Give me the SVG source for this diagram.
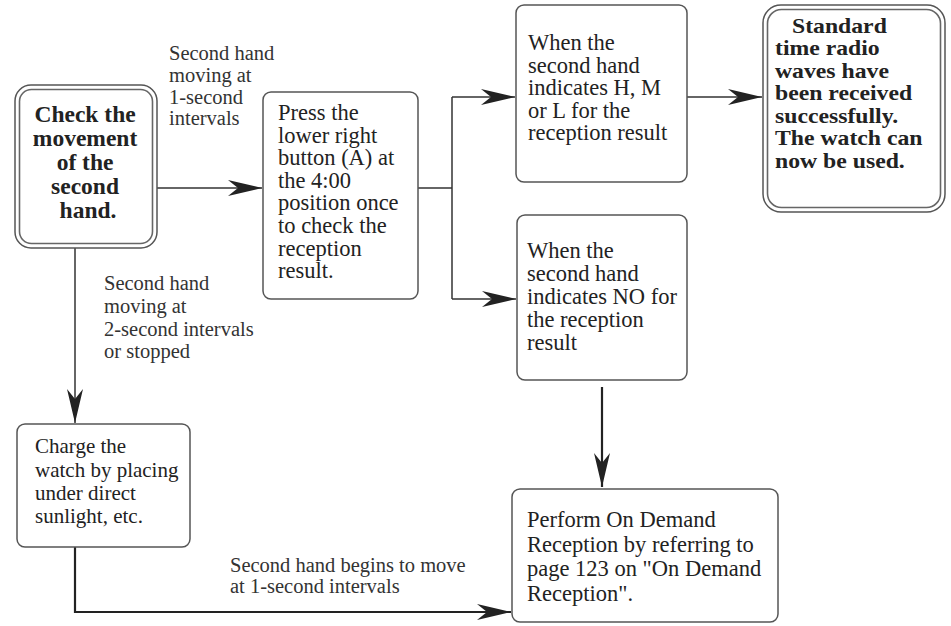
<svg xmlns="http://www.w3.org/2000/svg" width="951" height="626" viewBox="0 0 951 626">
<style>
.box{fill:#fff;stroke:#555;stroke-width:1.5}
.dbl{fill:none;stroke:#666;stroke-width:1.6}
.t{font-family:"Liberation Serif","Times New Roman",serif;font-size:22.5px;fill:#222}
.b{font-family:"Liberation Serif","Times New Roman",serif;font-size:23.5px;font-weight:bold;fill:#222}
.lbl{font-family:"Liberation Serif","Times New Roman",serif;font-size:20.5px;fill:#333}
.c{fill:none;stroke:#333;stroke-width:1.5}
.c2{fill:none;stroke:#222;stroke-width:2.2}
</style>
<defs>
<marker id="ah" markerUnits="userSpaceOnUse" viewBox="-35 -9 36 18" refX="0" refY="0" markerWidth="36" markerHeight="18" orient="auto">
<path d="M0,0 L-34,-8 L-24,0 L-34,8 Z" fill="#222"/>
</marker>
</defs>
<rect width="951" height="626" fill="#fff"/>
<g id="connectors">
<path class="c" d="M157,188 H262" marker-end="url(#ah)"/>
<path class="c" d="M418,188 H452"/>
<path class="c" d="M452,97 V299"/>
<path class="c" d="M452,97 H515" marker-end="url(#ah)"/>
<path class="c" d="M452,299 H516" marker-end="url(#ah)"/>
<path class="c" d="M687,97 H762" marker-end="url(#ah)"/>
<path class="c2" d="M602,387 V487" marker-end="url(#ah)"/>
<path class="c" d="M75,248 V423" marker-end="url(#ah)"/>
<path class="c2" d="M75,547 V612 H511" marker-end="url(#ah)"/>
</g>
<g id="labels">
<text class="lbl" x="169" y="60">Second hand</text>
<text class="lbl" x="169" y="82">moving at</text>
<text class="lbl" x="169" y="104">1-second</text>
<text class="lbl" x="169" y="125">intervals</text>
<text class="lbl" x="104" y="290">Second hand</text>
<text class="lbl" x="104" y="313">moving at</text>
<text class="lbl" x="104" y="336">2-second intervals</text>
<text class="lbl" x="104" y="358">or stopped</text>
<text class="lbl" x="230" y="572">Second hand begins to move</text>
<text class="lbl" x="230" y="593">at 1-second intervals</text>
</g>
<g id="check">
<rect class="box" x="15" y="85" width="142" height="163" rx="16" stroke="#777"/>
<rect class="dbl" x="19.5" y="89.5" width="133" height="154" rx="12"/>
<text class="b" text-anchor="middle">
<tspan x="88" y="122">Check the</tspan>
<tspan x="88" y="146">movement</tspan>
<tspan x="88" y="170">of the</tspan>
<tspan x="88" y="194">second</tspan>
<tspan x="88" y="218">hand.</tspan>
</text>
</g>
<g id="press">
<rect class="box" x="263" y="92" width="155" height="207" rx="8"/>
<text class="t">
<tspan x="278" y="120">Press the</tspan>
<tspan x="278" y="142.6">lower right</tspan>
<tspan x="278" y="165.2">button (A) at</tspan>
<tspan x="278" y="187.8">the 4:00</tspan>
<tspan x="278" y="210.4">position once</tspan>
<tspan x="278" y="233">to check the</tspan>
<tspan x="278" y="255.6">reception</tspan>
<tspan x="278" y="278.2">result.</tspan>
</text>
</g>
<g id="hml">
<rect class="box" x="516" y="5" width="171" height="177" rx="8"/>
<text class="t">
<tspan x="528" y="50">When the</tspan>
<tspan x="528" y="72.5">second hand</tspan>
<tspan x="528" y="95">indicates H, M</tspan>
<tspan x="528" y="117.5">or L for the</tspan>
<tspan x="528" y="140">reception result</tspan>
</text>
</g>
<g id="standard">
<rect class="box" x="763" y="5" width="182" height="207" rx="18" stroke="#777"/>
<rect class="dbl" x="767.5" y="9.5" width="173" height="198" rx="14"/>
<text class="b" style="font-size:21px" transform="translate(775,0) scale(1.13,1)">
<tspan x="15" y="33">Standard</tspan>
<tspan x="0" y="55.5">time radio</tspan>
<tspan x="0" y="78">waves have</tspan>
<tspan x="0" y="100.5">been received</tspan>
<tspan x="0" y="123">successfully.</tspan>
<tspan x="0" y="145.5">The watch can</tspan>
<tspan x="0" y="168">now be used.</tspan>
</text>
</g>
<g id="no">
<rect class="box" x="517" y="215" width="170" height="165" rx="8"/>
<text class="t">
<tspan x="527" y="258">When the</tspan>
<tspan x="527" y="281">second hand</tspan>
<tspan x="527" y="304">indicates NO for</tspan>
<tspan x="527" y="327">the reception</tspan>
<tspan x="527" y="350">result</tspan>
</text>
</g>
<g id="charge">
<rect class="box" x="17" y="424" width="173" height="123" rx="8"/>
<text class="t" style="font-size:21px">
<tspan x="35" y="453">Charge the</tspan>
<tspan x="35" y="477">watch by placing</tspan>
<tspan x="35" y="500">under direct</tspan>
<tspan x="35" y="523">sunlight, etc.</tspan>
</text>
</g>
<g id="perform">
<rect class="box" x="512" y="489" width="266" height="133" rx="8"/>
<text class="t">
<tspan x="527" y="527">Perform On Demand</tspan>
<tspan x="527" y="551.5">Reception by referring to</tspan>
<tspan x="527" y="576">page 123 on "On Demand</tspan>
<tspan x="527" y="600.5">Reception".</tspan>
</text>
</g>
</svg>
